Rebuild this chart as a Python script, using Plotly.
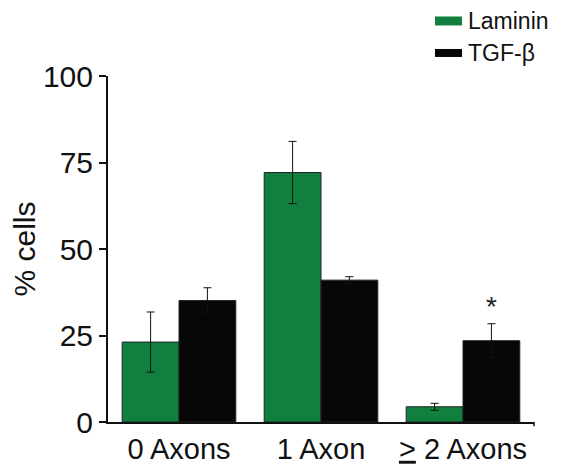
import plotly.graph_objects as go

categories = ["0 Axons", "1 Axon", "<u>></u> 2 Axons"]
laminin = [23.1, 72.1, 4.4]
laminin_err = [8.7, 9.0, 1.0]
tgfb = [35.1, 41.0, 23.5]
tgfb_err = [3.7, 1.0, 4.9]
y_ticks = [0, 25, 50, 75, 100]
series_names = ["Laminin", "TGF-β"]

GREEN = "#11803f"
BLACK = "#070707"
FONT = "Liberation Sans, Arial, sans-serif"

fig = go.Figure()
fig.add_trace(go.Bar(
    x=categories, y=laminin, name=series_names[0], showlegend=False,
    marker=dict(color=GREEN, line=dict(color="#222222", width=1)),
    error_y=dict(type="data", array=laminin_err, color="#111111", thickness=1, width=4),
))
fig.add_trace(go.Bar(
    x=categories, y=tgfb, name=series_names[1], showlegend=False,
    marker=dict(color=BLACK, line=dict(color="#222222", width=1)),
    error_y=dict(type="data", array=tgfb_err, color="#111111", thickness=1, width=4),
))

fig.add_annotation(x=categories[2], y=tgfb[2] + tgfb_err[2] + 5, text="*", showarrow=False,
                   xshift=28, font=dict(size=28, color="#222222", family=FONT))

# custom legend (wide swatches as in the reference)
legend_rows = [(series_names[0], GREEN, 1.146, 1.172, 1.159),
               (series_names[1], BLACK, 1.055, 1.078, 1.0665)]
for name, col, y0, y1, yt in legend_rows:
    fig.add_shape(type="rect", xref="paper", yref="paper", x0=0.7676, x1=0.831, y0=y0, y1=y1,
                  fillcolor=col, line=dict(width=0))
    fig.add_annotation(xref="paper", yref="paper", x=0.843, y=yt, xanchor="left", yanchor="middle",
                       text=name, showarrow=False, font=dict(size=23, color="#111111", family=FONT),
                       borderpad=0)

fig.update_layout(
    width=560, height=463,
    margin=dict(l=100, r=34, t=68, b=49, autoexpand=False),
    paper_bgcolor="white", plot_bgcolor="white",
    barmode="group", bargap=0.2, bargroupgap=0,
    font=dict(family=FONT, color="#111111"),
    xaxis=dict(range=[-0.5, 2.5], showline=True, linecolor="#111111", linewidth=2, automargin=False,
               ticks="", tickfont=dict(size=29, family=FONT), showgrid=False, zeroline=False),
    yaxis=dict(range=[0, 100], tickvals=y_ticks, showline=True, linecolor="#111111", linewidth=2,
               automargin=False,
               ticks="outside", ticklen=7, tickwidth=2, tickcolor="#111111",
               tickfont=dict(size=30, family=FONT), showgrid=False, zeroline=False,
               title=dict(text="% cells", font=dict(size=30, family=FONT), standoff=12)),
)
fig.add_shape(type="line", xref="paper", yref="paper", x0=1, x1=1, y0=0, y1=-0.012,
              line=dict(color="#111111", width=1.5))

fig.write_html("out.html")
